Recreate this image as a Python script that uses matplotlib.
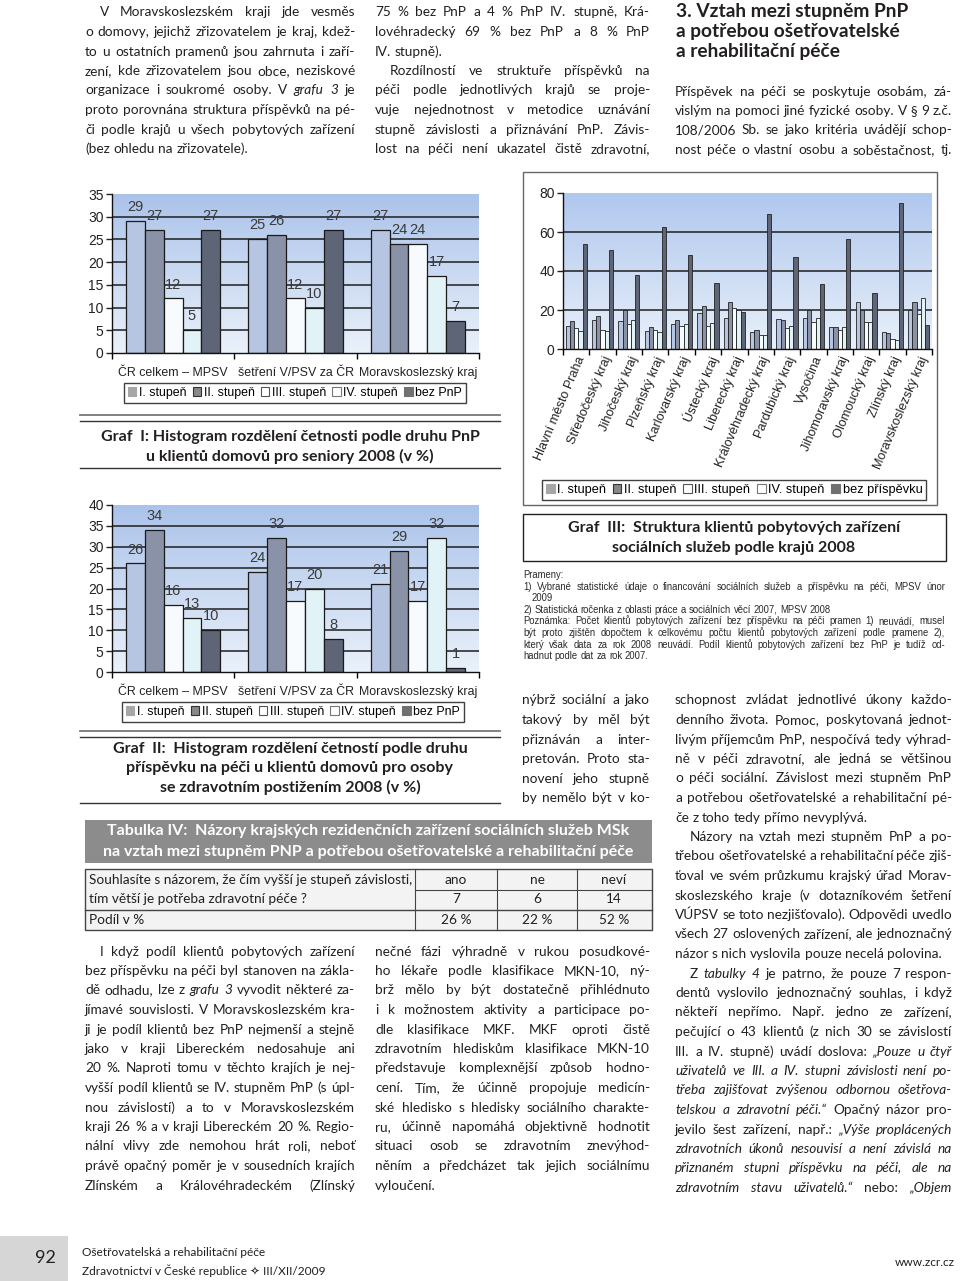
import matplotlib
matplotlib.use("Agg")
import matplotlib.pyplot as plt
import numpy as np
from matplotlib.colors import LinearSegmentedColormap
from matplotlib.patches import Patch, Rectangle

W, H = 960, 1281
TELO = ["Lato", "DejaVu Sans"]
GRAF = ["Liberation Sans", "DejaVu Sans"]
INKOUST = "#231f20"

plt.rcParams["font.family"] = GRAF

# --- Graf I a II ---
skupiny = ["ČR celkem – MPSV", "šetření V/PSV za ČR", "Moravskoslezský kraj"]
legenda_pnp = ["I. stupeň", "II. stupeň", "III. stupeň", "IV. stupeň", "bez PnP"]

seniori_I = [29, 25, 27]
seniori_II = [27, 26, 24]
seniori_III = [12, 12, 24]
seniori_IV = [5, 10, 17]
seniori_bez = [27, 27, 7]

postizeni_I = [26, 24, 21]
postizeni_II = [34, 32, 29]
postizeni_III = [16, 17, 17]
postizeni_IV = [13, 20, 32]
postizeni_bez = [10, 8, 1]

# --- Graf III ---
kraje = ["Hlavní město Praha", "Středočeský kraj", "Jihočeský kraj", "Plzeňský kraj",
         "Karlovarský kraj", "Ústecký kraj", "Liberecký kraj", "Královéhradecký kraj",
         "Pardubický kraj", "Vysočina", "Jihomoravský kraj", "Olomoucký kraj",
         "Zlínský kraj", "Moravskoslezský kraj"]
legenda_kraje = ["I. stupeň", "II. stupeň", "III. stupeň", "IV. stupeň", "bez příspěvku"]

kraje_I = [12, 15, 14.5, 9, 13, 18.5, 16, 8.5, 15.5, 16, 11.5, 24, 8.5, 20]
kraje_II = [14.5, 17, 20, 11.5, 15, 22, 24, 9.5, 15, 20, 11.5, 20, 8, 24]
kraje_III = [11, 9.5, 13, 9.5, 12, 12, 21, 7, 11, 14, 9.5, 14, 5, 18]
kraje_IV = [9, 9, 15, 8.5, 13, 13.5, 20, 7, 12, 16, 11.5, 14, 4.5, 26]
kraje_bez = [54, 51, 38, 62.5, 48, 34, 19, 69, 47, 33.5, 56.5, 28.5, 75, 12.5]

# --- Tabulka IV ---
odpovedi = ["ano", "ne", "neví"]
pocty = [7, 6, 14]
podily = ["26 %", "22 %", "52 %"]

BARVY = ["#b6c5e1", "#8a92a8", "#f7fbfd", "#e2f3f8", "#5d6576"]
LEG_BARVY = [("#a6a6a6", "#a6a6a6"), ("#888888", "#333333"), ("#ffffff", "#555555"),
             ("#ffffff", "#777777"), ("#707070", "#707070")]

# --- texty stránky ---
text_vlevo_nahore = [
    ">V Moravskoslezském kraji jde vesměs",
    "o domovy, jejichž zřizovatelem je kraj, kdež-",
    "to u ostatních pramenů jsou zahrnuta i zaří-",
    "zení, kde zřizovatelem jsou obce, neziskové",
    "organizace i soukromé osoby. V ~grafu ~3 je",
    "proto porovnána struktura příspěvků na pé-",
    "či podle krajů u všech pobytových zařízení",
    "(bez ohledu na zřizovatele).<",
]
text_stred_nahore = [
    "75 % bez PnP a 4 % PnP IV. stupně, Krá-",
    "lovéhradecký 69 % bez PnP a 8 % PnP",
    "IV. stupně).<",
    ">Rozdílností ve struktuře příspěvků na",
    "péči podle jednotlivých krajů se proje-",
    "vuje nejednotnost v metodice uznávání",
    "stupně závislosti a přiznávání PnP. Závis-",
    "lost na péči není ukazatel čistě zdravotní,",
]
nadpis_kapitoly = ["3. Vztah mezi stupněm PnP", "a potřebou ošetřovatelské", "a rehabilitační péče"]
text_vpravo_nahore = [
    "Příspěvek na péči se poskytuje osobám, zá-",
    "vislým na pomoci jiné fyzické osoby. V § 9 z.č.",
    "108/2006 Sb. se jako kritéria uvádějí schop-",
    "nost péče o vlastní osobu a soběstačnost, tj.",
]
text_stred_uzky = [
    "nýbrž sociální a jako",
    "takový by měl být",
    "přiznáván a inter-",
    "pretován. Proto sta-",
    "novení jeho stupně",
    "by nemělo být v ko-",
]
text_vpravo_dole = [
    "schopnost zvládat jednotlivé úkony každo-",
    "denního života. Pomoc, poskytovaná jednot-",
    "livým příjemcům PnP, nespočívá tedy výhrad-",
    "ně v péči zdravotní, ale jedná se většinou",
    "o péči sociální. Závislost mezi stupněm PnP",
    "a potřebou ošetřovatelské a rehabilitační pé-",
    "če z toho tedy přímo nevyplývá.<",
    ">Názory na vztah mezi stupněm PnP a po-",
    "třebou ošetřovatelské a rehabilitační péče zjiš-",
    "ťoval ve svém průzkumu krajský úřad Morav-",
    "skoslezského kraje (v dotazníkovém šetření",
    "VÚPSV se toto nezjišťovalo). Odpovědi uvedlo",
    "všech 27 oslovených zařízení, ale jednoznačný",
    "názor s nich vyslovila pouze necelá polovina.<",
    ">Z ~tabulky ~4 je patrno, že pouze 7 respon-",
    "dentů vyslovilo jednoznačný souhlas, i když",
    "někteří nepřímo. Např. jedno ze zařízení,",
    "pečující o 43 klientů (z nich 30 se závislostí",
    "III. a IV. stupně) uvádí doslova: ~„Pouze ~u ~čtyř",
    "~uživatelů ~ve ~III. ~a ~IV. ~stupni ~závislosti ~není ~po-",
    "~třeba ~zajišťovat ~zvýšenou ~odbornou ~ošetřova-",
    "~telskou ~a ~zdravotní ~péči.“ Opačný názor pro-",
    "jevilo šest zařízení, např.: ~„Výše ~proplácených",
    "~zdravotních ~úkonů ~nesouvisí ~a ~není ~závislá ~na",
    "~přiznaném ~stupni ~příspěvku ~na ~péči, ~ale ~na",
    "~zdravotním ~stavu ~uživatelů.“ nebo: ~„Objem",
]
text_vlevo_dole = [
    ">I když podíl klientů pobytových zařízení",
    "bez příspěvku na péči byl stanoven na zákla-",
    "dě odhadu, lze z ~grafu ~3 vyvodit některé za-",
    "jímavé souvislosti. V Moravskoslezském kra-",
    "ji je podíl klientů bez PnP nejmenší a stejně",
    "jako v kraji Libereckém nedosahuje ani",
    "20 %. Naproti tomu v těchto krajích je nej-",
    "vyšší podíl klientů se IV. stupněm PnP (s úpl-",
    "nou závislostí) a to v Moravskoslezském",
    "kraji 26 % a v kraji Libereckém 20 %. Regio-",
    "nální vlivy zde nemohou hrát roli, neboť",
    "právě opačný poměr je v sousedních krajích",
    "Zlínském a Královéhradeckém (Zlínský",
]
text_stred_dole = [
    "nečné fázi výhradně v rukou posudkové-",
    "ho lékaře podle klasifikace MKN-10, ný-",
    "brž mělo by být dostatečně přihlédnuto",
    "i k možnostem aktivity a participace po-",
    "dle klasifikace MKF. MKF oproti čistě",
    "zdravotním hlediskům klasifikace MKN-10",
    "představuje komplexnější způsob hodno-",
    "cení. Tím, že účinně propojuje medicín-",
    "ské hledisko s hledisky sociálního charakte-",
    "ru, účinně napomáhá objektivně hodnotit",
    "situaci osob se zdravotním znevýhod-",
    "něním a předcházet tak jejich sociálnímu",
    "vyloučení.<",
]
prameny = [
    "Prameny:<",
    "1) Vybrané statistické údaje o financování sociálních služeb a příspěvku na péči, MPSV únor",
    ">2009<",
    "2) Statistická ročenka z oblasti práce a sociálních věcí 2007, MPSV 2008<",
    "Poznámka: Počet klientů pobytových zařízení bez příspěvku na péči pramen 1) neuvádí, musel",
    "být proto zjištěn dopočtem k celkovému počtu klientů pobytových zařízení podle pramene 2),",
    "který však data za rok 2008 neuvádí. Podíl klientů pobytových zařízení bez PnP je tudíž od-",
    "hadnut podle dat za rok 2007.<",
]


def pixel_axes(fig, x0, y0, x1, y1):
    return fig.add_axes([x0 / W, 1 - y1 / H, (x1 - x0) / W, (y1 - y0) / H])


def pozadi(ax, horni="#abc3ea", dolni="#eaf1fa"):
    cmap = LinearSegmentedColormap.from_list("pozadi", [dolni, horni])
    ax.imshow(np.linspace(0, 1, 200).reshape(-1, 1), cmap=cmap, aspect="auto",
              origin="lower", extent=(0, 1, 0, 1), transform=ax.transAxes, zorder=0)


def osy(ax):
    for s in ("top", "right"):
        ax.spines[s].set_visible(False)
    for s in ("left", "bottom"):
        ax.spines[s].set_color("#111111")
        ax.spines[s].set_linewidth(1.0)
        ax.spines[s].set_zorder(4)
    ax.tick_params(axis="y", length=4, width=1, pad=2, labelsize=10, colors="#222222")


def histogram(ax, serie, ymax):
    pozadi(ax)
    x = np.arange(len(skupiny))
    w = 0.154
    for i, (hodnoty, barva) in enumerate(zip(serie, BARVY)):
        bars = ax.bar(x + (i - 2) * w, hodnoty, w, color=barva, edgecolor="#1a1a1a",
                      linewidth=0.9, zorder=3)
        ax.bar_label(bars, padding=5, fontsize=10.5, color="#3a3a3a")
    for v in range(5, ymax, 5):
        ax.axhline(v, color="#1e1e1e", lw=1.1, zorder=1)
    ax.set_xlim(-0.5, 2.5)
    ax.set_ylim(0, ymax)
    ax.set_yticks(range(0, ymax + 1, 5))
    ax.set_xticks([-0.5, 0.5, 1.5, 2.5])
    ax.set_xticklabels([])
    ax.set_xticks(x, minor=True)
    ax.set_xticklabels(skupiny, minor=True, fontsize=8.9, color="#222222")
    ax.tick_params(axis="x", which="major", length=4, width=1, direction="out")
    ax.tick_params(axis="x", which="minor", length=0, pad=10)
    osy(ax)


def legenda(fig, popisky, cx, cy, fs=8.9):
    handles = [Patch(facecolor=f, edgecolor=e, linewidth=0.8) for f, e in LEG_BARVY]
    leg = fig.legend(handles, popisky, loc="center", bbox_to_anchor=(cx / W, 1 - cy / H),
                     ncol=5, frameon=True, fancybox=False, edgecolor="#111111", fontsize=fs,
                     handlelength=0.7, handleheight=0.7, handletextpad=0.2,
                     columnspacing=0.5, borderpad=0.3, borderaxespad=0)
    leg.get_frame().set_linewidth(1.0)


def odstavec(ax, radky, x0, x1, y0, krok, size=9.8, rodina=TELO, odsazeni=15, barva=INKOUST):
    renderer = ax.figure.canvas.get_renderer()

    def sirka(s, fs):
        t = ax.text(0, 0, s, fontsize=fs, family=rodina)
        w = t.get_window_extent(renderer).width
        t.remove()
        return w

    mezera = sirka("a a", size) - 2 * sirka("a", size)
    for i, radek in enumerate(radky):
        y = y0 + i * krok
        xs = x0 + (odsazeni if radek.startswith(">") else 0)
        volny = radek.endswith("<")
        slova = radek.strip("><").split()
        texty = []
        for s in slova:
            styl = "italic" if s.startswith("~") else "normal"
            t = ax.text(0, y, s.lstrip("~"), fontsize=size, family=rodina, style=styl,
                        va="baseline", ha="left", color=barva)
            texty.append(t)
        sirky = [t.get_window_extent(renderer).width for t in texty]
        n = len(texty)
        if sum(sirky) + (n - 1) * mezera * 0.6 > x1 - xs:
            k = (x1 - xs - (n - 1) * mezera * 0.6) / sum(sirky)
            for t in texty:
                t.set_fontsize(size * k)
            sirky = [t.get_window_extent(renderer).width for t in texty]
        if volny or n == 1:
            gap = mezera
        else:
            gap = (x1 - xs - sum(sirky)) / (n - 1)
        x = xs
        for t, w in zip(texty, sirky):
            t.set_x(x)
            x += w + gap


def titulek(page, x, ys, radky, fs=11.5):
    for y, s in zip(ys, radky):
        page.text(x, y, s, ha="center", va="center", fontsize=fs, family=TELO,
                  weight="bold", color=INKOUST)


def main():
    fig = plt.figure(figsize=(W / 100, H / 100), dpi=100)
    fig.patch.set_facecolor("white")

    page = fig.add_axes([0, 0, 1, 1])
    page.set_xlim(0, W)
    page.set_ylim(H, 0)
    page.axis("off")

    # Graf I
    ax1 = pixel_axes(fig, 112, 194, 479, 353)
    histogram(ax1, [seniori_I, seniori_II, seniori_III, seniori_IV, seniori_bez], 35)
    legenda(fig, legenda_pnp, 295, 393)
    page.plot([80, 500], [415, 415], color="#777777", lw=1.3)
    page.plot([80, 500], [421, 421], color="#333333", lw=1.0)
    page.plot([80, 500], [468, 468], color="#333333", lw=1.0)
    titulek(page, 290, [437, 456], ["Graf  I: Histogram rozdělení četnosti podle druhu PnP",
                                    "u klientů domovů pro seniory 2008 (v %)"])

    # Graf II
    ax2 = pixel_axes(fig, 112, 505, 479, 672)
    histogram(ax2, [postizeni_I, postizeni_II, postizeni_III, postizeni_IV, postizeni_bez], 40)
    legenda(fig, legenda_pnp, 293, 712)
    page.plot([80, 500], [731, 731], color="#777777", lw=1.3)
    page.plot([80, 500], [737, 737], color="#333333", lw=1.0)
    page.plot([80, 500], [803, 803], color="#333333", lw=1.0)
    titulek(page, 290, [749, 768, 787], ["Graf  II:  Histogram rozdělení četností podle druhu",
                                         "příspěvku na péči u klientů domovů pro osoby",
                                         "se zdravotním postižením 2008 (v %)"])

    # Graf III
    page.add_patch(Rectangle((523, 172), 414, 333, fill=False, edgecolor="#666666", lw=1.0))
    ax3 = pixel_axes(fig, 563, 193, 932, 349)
    pozadi(ax3, "#b0c7ee", "#e8f0fa")
    x = np.arange(len(kraje))
    w = 0.16
    for i, (hodnoty, barva) in enumerate(zip([kraje_I, kraje_II, kraje_III, kraje_IV, kraje_bez], BARVY)):
        ax3.bar(x + (i - 2) * w, hodnoty, w, color=barva, edgecolor="#222222", linewidth=0.6, zorder=3)
    for v in (20, 40, 60):
        ax3.axhline(v, color="#1e1e1e", lw=1.1, zorder=1)
    ax3.set_xlim(-0.5, len(kraje) - 0.5)
    ax3.set_ylim(0, 80)
    ax3.set_yticks(range(0, 81, 20))
    ax3.set_xticks(np.arange(len(kraje) + 1) - 0.5)
    ax3.set_xticklabels([])
    ax3.set_xticks(x, minor=True)
    ax3.set_xticklabels(kraje, minor=True, rotation=67, ha="right", va="top",
                        rotation_mode="anchor", fontsize=9.2, color="#222222")
    ax3.tick_params(axis="x", which="major", length=4, width=1, direction="out")
    ax3.tick_params(axis="x", which="minor", length=0, pad=4)
    osy(ax3)
    legenda(fig, legenda_kraje, 734, 490, fs=9.2)
    page.add_patch(Rectangle((523, 514), 423, 47, fill=False, edgecolor="#222222", lw=1.0))
    titulek(page, 734, [528, 548], ["Graf  III:  Struktura klientů pobytových zařízení",
                                    "sociálních služeb podle krajů 2008"])
    odstavec(page, prameny, 523, 945, 578, 11.6, size=6.85, rodina=GRAF, odsazeni=9,
             barva="#2a2a2a")

    # Tabulka IV
    page.add_patch(Rectangle((85, 820), 567, 43, facecolor="#8c8c8c", edgecolor="none"))
    page.text(368, 831, "Tabulka IV:  Názory krajských rezidenčních zařízení sociálních služeb MSk",
              ha="center", va="center", fontsize=11.5, family=TELO, weight="bold", color="white")
    page.text(368, 852, "na vztah mezi stupněm PNP a potřebou ošetřovatelské a rehabilitační péče",
              ha="center", va="center", fontsize=11.5, family=TELO, weight="bold", color="white")
    page.add_patch(Rectangle((85, 869), 567, 61, facecolor="#f3f3f3", edgecolor="#444444", lw=1.0))
    page.plot([415, 652], [890, 890], color="#444444", lw=0.8)
    page.plot([85, 652], [910, 910], color="#444444", lw=1.0)
    for xv in (415, 497, 577):
        page.plot([xv, xv], [869, 930], color="#444444", lw=0.8)
    page.text(89, 880, "Souhlasíte s názorem, že čím vyšší je stupeň závislosti,", va="center",
              fontsize=9.8, family=TELO, color=INKOUST)
    page.text(89, 899, "tím větší je potřeba zdravotní péče ?", va="center",
              fontsize=9.8, family=TELO, color=INKOUST)
    page.text(89, 920, "Podíl v %", va="center", fontsize=9.8, family=TELO, color=INKOUST)
    for xc, a, n, p in zip([456, 537, 614], odpovedi, pocty, podily):
        page.text(xc, 880, a, ha="center", va="center", fontsize=9.8, family=TELO, color=INKOUST)
        page.text(xc, 899, str(n), ha="center", va="center", fontsize=9.8, family=TELO, color=INKOUST)
        page.text(xc, 920, p, ha="center", va="center", fontsize=9.8, family=TELO, color=INKOUST)

    # texty
    odstavec(page, text_vlevo_nahore, 85, 355, 16.5, 19.5)
    odstavec(page, text_stred_nahore, 375, 650, 16.5, 19.5)
    for i, s in enumerate(nadpis_kapitoly):
        page.text(676, 17 + i * 20, s, fontsize=13.8, family=TELO, weight="bold",
                  va="baseline", color=INKOUST)
    odstavec(page, text_vpravo_nahore, 675, 952, 95.5, 19.5)
    odstavec(page, text_stred_uzky, 522, 650, 704.5, 19.6)
    odstavec(page, text_vpravo_dole, 675, 952, 704.5, 19.5)
    odstavec(page, text_vlevo_dole, 85, 355, 955.5, 19.5)
    odstavec(page, text_stred_dole, 375, 650, 955.5, 19.5)

    # pata
    page.add_patch(Rectangle((0, 1236), 68, 45, facecolor="#d6d6d6", edgecolor="none"))
    page.text(45, 1258, "92", ha="center", va="center", fontsize=13, family=TELO, color=INKOUST)
    page.text(82, 1252, "Ošetřovatelská a rehabilitační péče", va="center", fontsize=8.6,
              family=TELO, color=INKOUST)
    page.text(82, 1271, "Zdravotnictví v České republice ✧ III/XII/2009", va="center",
              fontsize=8.6, family=TELO, color=INKOUST)
    page.text(955, 1262, "www.zcr.cz", ha="right", va="center", fontsize=8.6,
              family=TELO, color=INKOUST)

    fig.savefig("out.png", dpi=100)
    plt.close(fig)


if __name__ == "__main__":
    main()
